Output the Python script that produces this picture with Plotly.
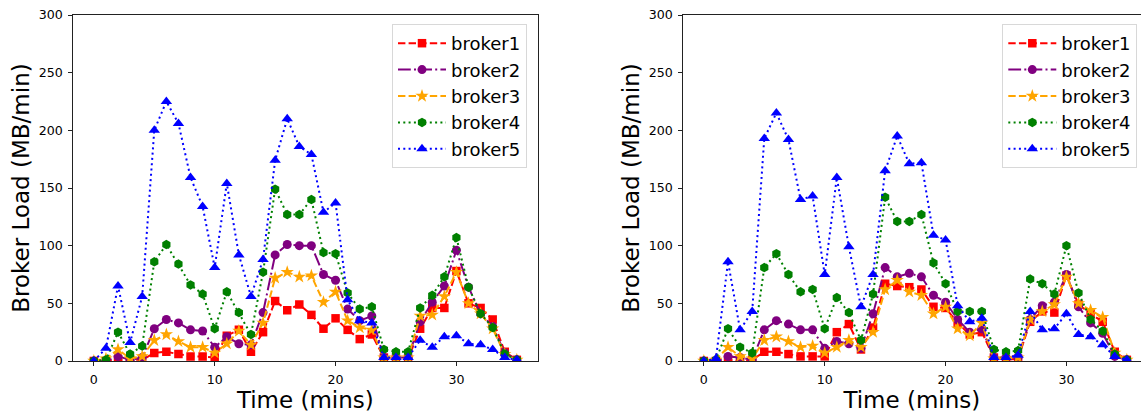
import plotly.graph_objects as go

time = list(range(36))

# Left panel
left_b1 = [0, 0, 1, 1, 1, 7, 8, 6, 4, 4, 3, 22, 27, 8, 25, 52, 44, 49, 40, 28, 37, 27, 19, 23, 3, 2, 2, 28, 46, 46, 78, 50, 46, 36, 8, 1]
left_b2 = [0, 0, 4, 1, 3, 28, 36, 33, 27, 26, 12, 21, 15, 14, 42, 92, 101, 100, 100, 75, 70, 45, 35, 39, 3, 3, 3, 34, 51, 65, 96, 64, 41, 30, 7, 1]
left_b3 = [0, 2, 10, 2, 4, 18, 23, 17, 12, 12, 7, 15, 26, 14, 33, 72, 77, 73, 74, 51, 60, 35, 29, 27, 3, 3, 3, 39, 40, 56, 77, 50, 41, 28, 6, 1]
left_b4 = [0, 1, 25, 6, 13, 86, 101, 84, 66, 58, 28, 60, 42, 23, 77, 149, 127, 127, 140, 94, 93, 59, 45, 47, 10, 8, 8, 46, 57, 73, 107, 64, 41, 29, 6, 1]
left_b5 = [0, 11, 65, 16, 56, 200, 225, 206, 159, 134, 81, 154, 92, 56, 88, 174, 210, 186, 179, 129, 137, 53, 35, 33, 3, 3, 3, 18, 12, 21, 22, 15, 14, 10, 3, 1]

# Right panel
right_b1 = [0, 0, 1, 0, 1, 8, 8, 6, 4, 4, 4, 25, 32, 10, 29, 67, 65, 64, 62, 47, 46, 33, 23, 25, 3, 1, 2, 34, 43, 42, 74, 49, 41, 34, 8, 1]
right_b2 = [0, 0, 4, 3, 1, 27, 35, 32, 27, 27, 11, 17, 15, 11, 41, 81, 73, 76, 73, 57, 51, 36, 25, 28, 3, 3, 3, 36, 48, 51, 75, 47, 33, 24, 4, 1]
right_b3 = [0, 1, 12, 4, 2, 18, 21, 17, 12, 13, 7, 12, 18, 12, 25, 62, 70, 60, 57, 41, 47, 28, 22, 33, 2, 2, 3, 36, 43, 49, 73, 50, 44, 38, 7, 1]
right_b4 = [0, 1, 28, 12, 7, 81, 93, 75, 60, 62, 28, 55, 42, 18, 58, 142, 121, 121, 127, 85, 67, 43, 43, 43, 10, 8, 9, 71, 67, 58, 100, 59, 36, 26, 6, 1]
right_b5 = [0, 2, 86, 27, 43, 193, 215, 192, 140, 143, 75, 159, 99, 47, 75, 165, 195, 171, 172, 109, 105, 48, 34, 37, 3, 3, 5, 43, 27, 28, 41, 23, 21, 14, 4, 1]

names = ["broker1", "broker2", "broker3", "broker4", "broker5"]
colors = ["#ff0000", "#800080", "#ffa500", "#008000", "#0000ff"]
symbols = ["square", "circle", "star", "hexagon", "triangle-up"]
msizes = [8.5, 9, 10, 9.5, 10]
dashes = ["7.4px,3.2px", "12.8px,3.2px,2px,3.2px", "7.4px,3.2px", "2px,3.3px", "2px,3.3px"]

panels = [
    ([left_b1, left_b2, left_b3, left_b4, left_b5], "x", "y", "legend"),
    ([right_b1, right_b2, right_b3, right_b4, right_b5], "x2", "y2", "legend2"),
]

fig = go.Figure()
for series, xa, ya, lg in panels:
    for i, vals in enumerate(series):
        fig.add_trace(go.Scatter(
            x=time, y=vals, name=names[i], mode="lines+markers",
            xaxis=xa, yaxis=ya, legend=lg,
            line=dict(color=colors[i], width=2, dash=dashes[i]),
            marker=dict(symbol=symbols[i], size=msizes[i], color=colors[i], line=dict(width=0)),
        ))

FONT = "DejaVu Sans"
W, H = 1141, 414
tickfont = dict(family=FONT, size=12.6, color="black")
titlefont = dict(family=FONT, size=23, color="black")

def xax(domain, rng, mirror):
    return dict(domain=domain, range=rng, anchor=None, showgrid=False, zeroline=False,
                showline=True, linecolor="#222", linewidth=1, mirror=mirror,
                ticks="outside", ticklen=3.5, tickwidth=1, tickcolor="#222",
                tickvals=[0, 10, 20, 30], tickfont=tickfont, ticklabelstandoff=3,
                title=dict(text="Time (mins)", font=titlefont, standoff=3), automargin=False)

def yax(domain, mirror, anchor):
    return dict(domain=domain, range=[0, 300], anchor=anchor, showgrid=False, zeroline=False,
                showline=True, linecolor="#222", linewidth=1, mirror=mirror,
                ticks="outside", ticklen=3.5, tickwidth=1, tickcolor="#222",
                tickvals=[0, 50, 100, 150, 200, 250, 300], tickfont=tickfont, ticklabelstandoff=3,
                title=dict(text="Broker Load (MB/min)", font=titlefont, standoff=2), automargin=False)

ydom = [1 - 361 / H, 1 - 15 / H]
x1 = xax([72.7 / W, 538 / W], [-1.75, 36.75], True)
x1["anchor"] = "y"
x2 = xax([682.7 / W, 1.0], [-1.75, 36.17], True)
x2["anchor"] = "y2"

legend_style = dict(font=dict(family=FONT, size=18, color="black"), bgcolor="white",
                    bordercolor="#d8d8d8", borderwidth=1, xanchor="left", yanchor="top",
                    tracegroupgap=0, itemwidth=48)

fig.update_layout(
    width=W, height=H, margin=dict(l=0, r=0, t=0, b=0),
    paper_bgcolor="white", plot_bgcolor="white",
    xaxis=x1, yaxis=yax(ydom, True, "x"),
    xaxis2=x2, yaxis2=yax(ydom, False, "x2"),
    legend=dict(x=392 / W, y=1 - 24 / H, **legend_style),
    legend2=dict(x=1002.3 / W, y=1 - 24 / H, **legend_style),
)

fig.write_html("out.html")
